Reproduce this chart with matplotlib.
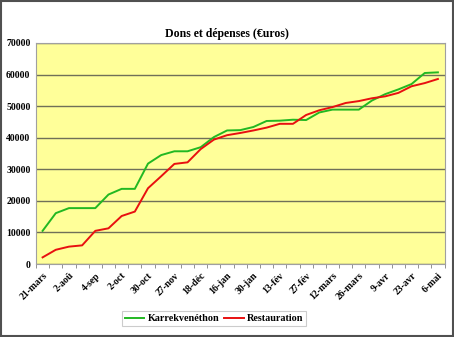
import matplotlib.pyplot as plt
import numpy as np
from matplotlib.patches import Rectangle

plt.rcParams['font.family'] = ['Liberation Serif', 'DejaVu Serif']

labels = ['21-mars', '2-aoû', '4-sep', '2-oct', '30-oct', '27-nov', '18-déc', '16-jan',
          '30-jan', '13-fév', '27-fév', '12-mars', '26-mars', '9-avr', '23-avr', '6-mai']

karrek = [10500, 16100, 17700, 17700, 17700, 22000, 23800, 23800, 31800, 34500,
          35700, 35700, 37000, 40200, 42300, 42400, 43400, 45300, 45400, 45700,
          45600, 48000, 48900, 48900, 48900, 51800, 53800, 55300, 57000, 60500, 60700]
restau = [2100, 4500, 5500, 5900, 10500, 11300, 15200, 16600, 24000, 27800,
          31700, 32200, 36400, 39400, 40800, 41500, 42300, 43200, 44400, 44400,
          47200, 48700, 49700, 51000, 51600, 52500, 53100, 54200, 56300, 57300, 58600]

x = np.arange(len(karrek))

fig = plt.figure(figsize=(4.54, 3.37), dpi=100)
ax = fig.add_axes([36 / 454, 1 - 264 / 337, 408.5 / 454, 221 / 337])
ax.set_facecolor('#FFFF99')

ax.plot(x, karrek, color='#22B822', lw=1.4, label='Karrekvenéthon')
ax.plot(x, restau, color='#E81010', lw=1.4, label='Restauration')

ax.set_xlim(-0.5, len(x) - 0.5)
ax.set_ylim(0, 70000)
ax.set_yticks(np.arange(0, 70001, 10000))
ax.grid(axis='y', color='#707058', lw=1)
ax.set_axisbelow(True)

ax.set_xticks(x[::2])
ax.set_xticklabels(labels, rotation=45, ha='right', rotation_mode='anchor',
                   fontsize=7, fontweight='bold')
ax.set_xticks(np.arange(-0.5, len(x), 1), minor=True)
ax.tick_params(axis='x', which='major', length=0, pad=5)
ax.tick_params(axis='x', which='minor', length=3, color='#808080')
ax.tick_params(axis='y', length=0, labelsize=7, pad=4)
for t in ax.get_yticklabels():
    t.set_fontweight('bold')

for s in ax.spines.values():
    s.set_color('#A0A0A0')
    s.set_linewidth(0.8)

fig.text(0.5, 1 - 34 / 337, 'Dons et dépenses (€uros)', fontsize=8.5,
         fontweight='bold', ha='center', va='center')

leg = ax.legend(loc='upper center', bbox_to_anchor=(0.436, -0.19), ncol=2,
                fontsize=7.3, frameon=True, fancybox=False, handlelength=1.9,
                columnspacing=0.5, handletextpad=0.3, borderpad=0.3)
leg.get_frame().set_edgecolor('#C0C0C0')
leg.get_frame().set_linewidth(0.8)
for t in leg.get_texts():
    t.set_fontweight('bold')

fig.patches.append(Rectangle((0.002, 0.003), 0.996, 0.994, transform=fig.transFigure,
                             fill=False, edgecolor='#505050', lw=1.5))

fig.savefig('out.png', dpi=100)
